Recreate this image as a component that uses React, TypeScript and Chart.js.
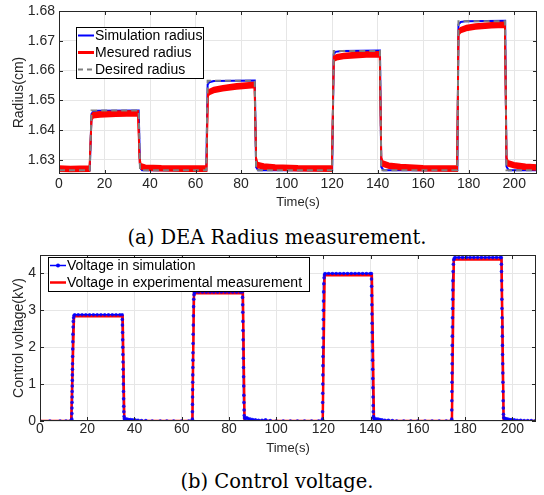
import { useEffect, useRef } from 'react';
import { Chart, registerables } from 'chart.js';

Chart.register(...registerables);

// ---------- data ----------
const xTicks = [0, 20, 40, 60, 80, 100, 120, 140, 160, 180, 200];
const radiusTicks = [1.63, 1.64, 1.65, 1.66, 1.67, 1.68];
const voltTicks = [0, 1, 2, 3, 4];

const radiusLegend = ['Simulation radius', 'Mesured radius', 'Desired radius'];
const voltLegend = ['Voltage in simulation', 'Voltage in experimental measurement'];

// [time (s), radius (cm)]
const desiredRadius = [
  [0, 1.6266], [13.5, 1.6266], [14.3, 1.6466], [35, 1.6466], [35.6, 1.6266],
  [64.7, 1.6266], [65.3, 1.6566], [86, 1.6566], [86.6, 1.6266],
  [120, 1.6266], [120.7, 1.6666], [141, 1.6666], [141.6, 1.6266],
  [175, 1.6266], [175.5, 1.6766], [196, 1.6766], [196.6, 1.6266], [210, 1.6266],
];

const simulatedRadius = [
  [0, 1.6266], [13.5, 1.6266], [14.3, 1.6455], [15, 1.6462], [17, 1.6465], [35, 1.6466], [35.6, 1.6275], [36.5, 1.6266],
  [64.7, 1.6266], [65.3, 1.6553], [66, 1.6561], [68, 1.6565], [86, 1.6567], [86.6, 1.6276], [87.5, 1.6266],
  [120, 1.6266], [120.7, 1.6655], [121.5, 1.6663], [124, 1.6666], [141, 1.6667], [141.6, 1.6277], [142.5, 1.6266],
  [175, 1.6266], [175.5, 1.6755], [176.5, 1.6763], [179, 1.6766], [196, 1.6767], [196.6, 1.6278], [197.5, 1.6266], [210, 1.6266],
];

// centre of the noisy measured band
const measuredRadius = [
  [0, 1.6271], [5, 1.627], [13.4, 1.6271], [14.3, 1.6442], [15, 1.645], [18, 1.6453], [25, 1.6455], [34.7, 1.6457],
  [35.4, 1.63], [35.9, 1.6279], [38, 1.6274], [45, 1.6272], [55, 1.6271], [64.8, 1.6271],
  [65.4, 1.6522], [66, 1.6528], [68, 1.6535], [72, 1.6541], [78, 1.6547], [85.9, 1.6552],
  [86.6, 1.63], [87.2, 1.6283], [90, 1.6278], [95, 1.6275], [105, 1.6272], [119.9, 1.6271],
  [120.7, 1.664], [122, 1.6645], [125, 1.6649], [130, 1.6652], [135, 1.6654], [140.9, 1.6655],
  [141.6, 1.63], [142.2, 1.6288], [145, 1.6281], [150, 1.6276], [160, 1.6272], [174.9, 1.6271],
  [175.5, 1.6728], [176.5, 1.6736], [179, 1.6743], [183, 1.6748], [190, 1.6752], [195.9, 1.6754],
  [196.6, 1.63], [197.2, 1.6289], [200, 1.6282], [205, 1.6277], [210, 1.6275],
];
const measuredNoise = 0.0008;

// [time (s), voltage (kV)]
const measuredVoltage = [
  [0, 0], [13.2, 0], [14.4, 2.84], [35.0, 2.84], [35.7, 0],
  [64.5, 0], [65.2, 3.46], [85.9, 3.46], [86.6, 0],
  [119.7, 0], [120.5, 3.95], [140.5, 3.95], [141.4, 0],
  [174.4, 0], [175.2, 4.38], [195.4, 4.38], [196.3, 0], [210, 0],
];

const simulatedVoltage = [
  [0, 0], [4.2, 0], [8.5, 0], [11, 0], [12.8, 0], [13.4, 0],
  [13.45, 0.05], [13.5, 0.2], [13.53, 0.35], [13.56, 0.5], [13.59, 0.65], [13.62, 0.8], [13.65, 0.95], [13.68, 1.1],
  [13.71, 1.25], [13.74, 1.4], [13.77, 1.55], [13.81, 1.75], [13.85, 1.95], [13.9, 2.15], [13.95, 2.35], [14.02, 2.55],
  [14.1, 2.7], [14.22, 2.8], [14.4, 2.86], [14.7, 2.88],
  [16.2, 2.88], [17.8, 2.88], [19.4, 2.88], [21, 2.88], [22.6, 2.88], [24.2, 2.88], [25.8, 2.88], [27.4, 2.88],
  [29, 2.88], [30.6, 2.88], [32.2, 2.88], [33.8, 2.88], [34.8, 2.88],
  [34.85, 2.75], [34.9, 2.6], [34.95, 2.4], [35.0, 2.2], [35.05, 2.0], [35.1, 1.8], [35.15, 1.6], [35.2, 1.4],
  [35.25, 1.2], [35.3, 1.0], [35.35, 0.8], [35.4, 0.6], [35.45, 0.4], [35.5, 0.25], [35.58, 0.12], [35.7, 0.06],
  [36.2, 0.05], [36.8, 0.05], [37.5, 0.04], [38.3, 0.04], [39.2, 0.03], [40.2, 0.03], [41.5, 0.02], [43, 0.01],
  [44.8, 0.01], [47.5, 0], [50.9, 0], [53.7, 0], [56.6, 0], [60, 0], [63, 0], [64.4, 0],
  [64.5, 0.05], [64.53, 0.25], [64.56, 0.45], [64.59, 0.65], [64.62, 0.85], [64.65, 1.05], [64.68, 1.25], [64.71, 1.45],
  [64.74, 1.65], [64.77, 1.85], [64.81, 2.1], [64.85, 2.35], [64.9, 2.6], [64.95, 2.85], [65.02, 3.1], [65.1, 3.3],
  [65.22, 3.42], [65.4, 3.48], [65.7, 3.5],
  [67.2, 3.5], [68.8, 3.5], [70.4, 3.5], [72, 3.5], [73.6, 3.5], [75.2, 3.5], [76.8, 3.5], [78.4, 3.5],
  [80, 3.5], [81.6, 3.5], [83.2, 3.5], [84.8, 3.5], [85.7, 3.5],
  [85.75, 3.35], [85.8, 3.15], [85.85, 2.95], [85.9, 2.7], [85.95, 2.45], [86.0, 2.2], [86.05, 1.95], [86.1, 1.7],
  [86.15, 1.45], [86.2, 1.2], [86.25, 0.95], [86.3, 0.7], [86.35, 0.5], [86.4, 0.3], [86.47, 0.15], [86.58, 0.08],
  [87.1, 0.07], [87.6, 0.09], [88.2, 0.06], [89, 0.05], [90, 0.04], [91.2, 0.03], [92.5, 0.02], [94, 0.02],
  [95.5, 0.03], [97.5, 0.01], [100, 0], [103, 0], [106, 0], [109, 0], [112, 0], [115, 0], [118, 0], [119.5, 0],
  [119.6, 0.05], [119.63, 0.25], [119.66, 0.5], [119.69, 0.75], [119.72, 1.0], [119.75, 1.25], [119.78, 1.5], [119.81, 1.75],
  [119.84, 2.0], [119.87, 2.25], [119.9, 2.5], [119.94, 2.75], [119.98, 3.0], [120.03, 3.25], [120.09, 3.5], [120.17, 3.72],
  [120.28, 3.88], [120.45, 3.96], [120.7, 4.0],
  [122.2, 4], [123.8, 4], [125.4, 4], [127, 4], [128.6, 4], [130.2, 4], [131.8, 4], [133.4, 4],
  [135, 4], [136.6, 4], [138.2, 4], [139.8, 4], [140.3, 4],
  [140.35, 3.85], [140.4, 3.65], [140.45, 3.4], [140.5, 3.15], [140.55, 2.9], [140.6, 2.65], [140.65, 2.4], [140.7, 2.15],
  [140.75, 1.9], [140.8, 1.65], [140.85, 1.4], [140.9, 1.15], [140.95, 0.9], [141.0, 0.65], [141.05, 0.42], [141.1, 0.25],
  [141.18, 0.12], [141.3, 0.07],
  [141.8, 0.06], [142.4, 0.05], [143.1, 0.05], [143.9, 0.04], [144.8, 0.03], [146, 0.02], [147.5, 0.02], [149.2, 0.01],
  [151, 0], [154, 0], [157, 0], [160, 0], [163, 0], [166, 0], [169, 0], [172, 0], [174.2, 0],
  [174.3, 0.05], [174.33, 0.3], [174.36, 0.55], [174.39, 0.8], [174.42, 1.05], [174.45, 1.3], [174.48, 1.55], [174.51, 1.8],
  [174.54, 2.05], [174.57, 2.3], [174.6, 2.55], [174.64, 2.8], [174.68, 3.05], [174.72, 3.3], [174.77, 3.55], [174.83, 3.8],
  [174.91, 4.05], [175.02, 4.25], [175.18, 4.37], [175.45, 4.42], [175.8, 4.43],
  [177.3, 4.43], [178.9, 4.43], [180.5, 4.43], [182.1, 4.43], [183.7, 4.43], [185.3, 4.43], [186.9, 4.43], [188.5, 4.43],
  [190.1, 4.43], [191.7, 4.43], [193.3, 4.43], [194.9, 4.43], [195.3, 4.43],
  [195.35, 4.25], [195.4, 4.05], [195.45, 3.8], [195.5, 3.55], [195.55, 3.3], [195.6, 3.05], [195.65, 2.8], [195.7, 2.55],
  [195.75, 2.3], [195.8, 2.05], [195.85, 1.8], [195.9, 1.55], [195.95, 1.3], [196.0, 1.05], [196.05, 0.8], [196.1, 0.55],
  [196.15, 0.35], [196.22, 0.18], [196.32, 0.09],
  [196.8, 0.07], [197.4, 0.06], [198.1, 0.05], [198.9, 0.04], [199.8, 0.04], [200.8, 0.03], [202, 0.02], [203.5, 0.02],
  [205, 0.01], [206.5, 0.01], [208, 0.01], [209.5, 0], [210, 0],
];

// ---------- styling ----------
const FONT = "'Liberation Sans', Arial, Helvetica, sans-serif";
const AXIS = '#262626';
const GRID = '#e6e6e6';
const BLUE = '#0000ff';
const RED = '#ff0000';
const GRAY = '#7f7f7f';

const toXY = (pts: number[][], dy = 0) => pts.map(([x, y]) => ({ x, y: y + dy }));

const frameLegendPlugin = {
  id: 'frameLegend',
  afterDatasetsDraw(chart: any, _args: any, opts: any) {
    const { ctx, chartArea: a, scales } = chart;
    const L = 4;
    ctx.save();
    ctx.strokeStyle = AXIS;
    ctx.lineWidth = 1;
    ctx.setLineDash([]);
    ctx.beginPath();
    scales.x.ticks.forEach((t: any) => {
      const px = Math.round(scales.x.getPixelForValue(t.value)) + 0.5;
      ctx.moveTo(px, a.bottom);
      ctx.lineTo(px, a.bottom - L);
      ctx.moveTo(px, a.top);
      ctx.lineTo(px, a.top + L);
    });
    scales.y.ticks.forEach((t: any) => {
      const py = Math.round(scales.y.getPixelForValue(t.value)) + 0.5;
      ctx.moveTo(a.left, py);
      ctx.lineTo(a.left + L, py);
      ctx.moveTo(a.right, py);
      ctx.lineTo(a.right - L, py);
    });
    ctx.stroke();
    ctx.strokeRect(a.left + 0.5, a.top + 0.5, a.right - a.left - 1, a.bottom - a.top - 1);

    // inset legend
    const bx = a.left + opts.dx;
    const by = a.top + opts.dy;
    ctx.fillStyle = '#ffffff';
    ctx.fillRect(bx, by, opts.w, opts.h);
    ctx.strokeStyle = '#000000';
    ctx.strokeRect(bx + 0.5, by + 0.5, opts.w, opts.h);
    ctx.font = `14px ${FONT}`;
    ctx.textBaseline = 'middle';
    ctx.textAlign = 'left';
    opts.items.forEach((it: any, i: number) => {
      const cy = by + 8.5 + 17 * i;
      ctx.strokeStyle = it.color;
      ctx.lineWidth = it.width;
      ctx.setLineDash(it.dash || []);
      ctx.beginPath();
      ctx.moveTo(bx + 2, cy);
      ctx.lineTo(bx + 18, cy);
      ctx.stroke();
      ctx.setLineDash([]);
      if (it.marker) {
        ctx.fillStyle = it.color;
        ctx.beginPath();
        ctx.arc(bx + 10, cy, 2, 0, Math.PI * 2);
        ctx.fill();
      }
      ctx.fillStyle = '#000000';
      ctx.fillText(it.label, bx + 19, cy + 0.5);
    });
    ctx.restore();
  },
};

function makeScales(c: any) {
  return {
    x: {
      type: 'linear',
      min: 0,
      max: 210,
      afterBuildTicks: (s: any) => {
        s.ticks = xTicks.map((v) => ({ value: v }));
      },
      afterFit: (s: any) => {
        s.height = c.xHeight;
        s.paddingLeft = 0;
        s.paddingRight = 0;
      },
      grid: { color: GRID, drawTicks: false, lineWidth: 1 },
      border: { display: false },
      ticks: {
        padding: c.xPad,
        color: AXIS,
        autoSkip: false,
        maxRotation: 0,
        font: { family: FONT, size: 14 },
        callback: (v: any) => String(v),
      },
      title: {
        display: true,
        text: 'Time(s)',
        color: AXIS,
        font: { family: FONT, size: 13 },
        padding: { top: 0, bottom: c.xTitlePad },
      },
    },
    y: {
      type: 'linear',
      min: c.yMin,
      max: c.yMax,
      afterBuildTicks: (s: any) => {
        s.ticks = c.yTicks.map((v: number) => ({ value: v }));
      },
      afterFit: (s: any) => {
        s.width = c.yWidth;
        s.paddingTop = 0;
        s.paddingBottom = 0;
      },
      grid: { color: GRID, drawTicks: false, lineWidth: 1 },
      border: { display: false },
      ticks: {
        padding: 4,
        color: AXIS,
        autoSkip: false,
        font: { family: FONT, size: 14 },
        callback: c.yFormat,
      },
      title: {
        display: true,
        text: c.yTitle,
        color: AXIS,
        font: { family: FONT, size: 14 },
        padding: { top: 11, bottom: 0 },
      },
    },
  };
}

export default function App() {
  const c1 = useRef<HTMLCanvasElement>(null);
  const c2 = useRef<HTMLCanvasElement>(null);

  useEffect(() => {
    document.body.style.margin = '0';
    document.body.style.background = '#ffffff';

    const radiusChart = new Chart(c1.current as HTMLCanvasElement, {
      type: 'line',
      data: {
        datasets: [
          {
            label: radiusLegend[2],
            data: toXY(desiredRadius),
            borderColor: GRAY,
            borderWidth: 2,
            borderDash: [6, 4],
            pointRadius: 0,
            tension: 0,
            order: 0,
          },
          {
            label: radiusLegend[1],
            data: toXY(measuredRadius, measuredNoise),
            borderColor: RED,
            backgroundColor: RED,
            borderWidth: 1.8,
            pointRadius: 0,
            tension: 0,
            fill: '+1',
            order: 1,
          },
          {
            label: radiusLegend[1] + ' (lower)',
            data: toXY(measuredRadius, -measuredNoise),
            borderColor: RED,
            borderWidth: 1.8,
            pointRadius: 0,
            tension: 0,
            order: 1,
          },
          {
            label: radiusLegend[0],
            data: toXY(simulatedRadius),
            borderColor: BLUE,
            borderWidth: 2,
            pointRadius: 0,
            tension: 0,
            order: 2,
          },
        ],
      },
      options: {
        animation: false,
        responsive: false,
        devicePixelRatio: 1,
        events: [],
        layout: { padding: { top: 11, right: 7, bottom: 0, left: 0 } },
        plugins: {
          legend: { display: false },
          tooltip: { enabled: false },
          filler: { propagate: false },
          frameLegend: {
            dx: 17,
            dy: 16,
            w: 127,
            h: 51,
            items: [
              { label: radiusLegend[0], color: BLUE, width: 2 },
              { label: radiusLegend[1], color: RED, width: 3 },
              { label: radiusLegend[2], color: GRAY, width: 2, dash: [5, 4] },
            ],
          },
        } as any,
        scales: makeScales({
          xHeight: 41,
          xPad: 2,
          xTitlePad: 5,
          yMin: 1.6253,
          yMax: 1.68,
          yTicks: radiusTicks,
          yWidth: 59,
          yTitle: 'Radius(cm)',
          yFormat: (v: any) => Number(v).toFixed(2),
        }) as any,
      },
      plugins: [frameLegendPlugin],
    });

    const voltChart = new Chart(c2.current as HTMLCanvasElement, {
      type: 'line',
      data: {
        datasets: [
          {
            label: voltLegend[0] + ' (samples)',
            data: toXY(simulatedVoltage),
            showLine: false,
            pointRadius: 1.8,
            pointBackgroundColor: 'rgba(0,0,255,0.85)',
            pointBorderWidth: 0,
            order: 0,
          },
          {
            label: voltLegend[1],
            data: toXY(measuredVoltage),
            borderColor: RED,
            borderWidth: 2.5,
            pointRadius: 0,
            tension: 0,
            order: 1,
          },
          {
            label: voltLegend[0],
            data: toXY(simulatedVoltage),
            borderColor: BLUE,
            borderWidth: 1.5,
            pointRadius: 0,
            tension: 0,
            order: 2,
          },
        ],
      },
      options: {
        animation: false,
        responsive: false,
        devicePixelRatio: 1,
        events: [],
        layout: { padding: { top: 15, right: 8, bottom: 0, left: 0 } },
        plugins: {
          legend: { display: false },
          tooltip: { enabled: false },
          frameLegend: {
            dx: 8,
            dy: 2,
            w: 261,
            h: 34,
            items: [
              { label: voltLegend[0], color: BLUE, width: 1.5, marker: true },
              { label: voltLegend[1], color: RED, width: 2.5 },
            ],
          },
        } as any,
        scales: makeScales({
          xHeight: 39,
          xPad: 0,
          xTitlePad: 4,
          yMin: 0,
          yMax: 4.5,
          yTicks: voltTicks,
          yWidth: 40,
          yTitle: 'Control voltage(kV)',
          yFormat: (v: any) => String(v),
        }) as any,
      },
      plugins: [frameLegendPlugin],
    });

    return () => {
      radiusChart.destroy();
      voltChart.destroy();
    };
  }, []);

  const caption: any = {
    position: 'absolute',
    left: 5,
    width: 544,
    textAlign: 'center',
    fontFamily: "'DejaVu Serif', serif",
    fontSize: '19.5px',
    lineHeight: '24px',
    color: '#000',
    whiteSpace: 'nowrap',
  };

  return (
    <div style={{ position: 'relative', width: 544, height: 495, background: '#fff', overflow: 'hidden' }}>
      <canvas ref={c1} width={544} height={215} style={{ position: 'absolute', left: 0, top: 0 }} />
      <div style={{ ...caption, top: 226 }}>(a) DEA Radius measurement.</div>
      <canvas ref={c2} width={544} height={220} style={{ position: 'absolute', left: 0, top: 240 }} />
      <div style={{ ...caption, top: 470 }}>(b) Control voltage.</div>
    </div>
  );
}
